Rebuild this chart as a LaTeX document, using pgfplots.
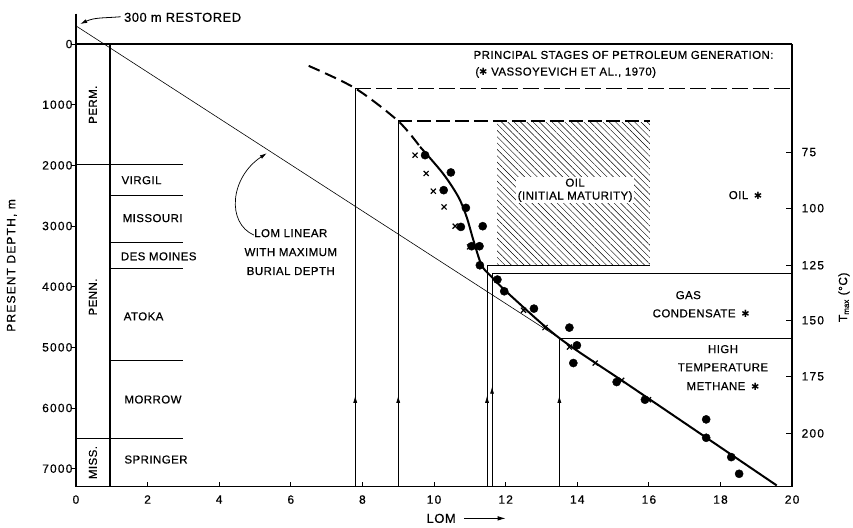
\documentclass[border=0pt]{standalone}
\usepackage{fontspec}
\setmainfont{Liberation Sans}[LetterSpace=4, FakeBold=0.6]
\newfontfamily\tickfont{Liberation Sans}[LetterSpace=10, FakeBold=0.6]
\newfontfamily\symfont{DejaVu Sans}
\usepackage{pgfplots}
\pgfplotsset{compat=1.18}
\usetikzlibrary{patterns.meta,arrows.meta}

\newcommand{\vs}{{\symfont\fontsize{10}{10}\selectfont ✱}}

\begin{document}
\begin{tikzpicture}[lbl/.style={font=\fontsize{11.5}{13}\selectfont, inner sep=0pt}]
\begin{axis}[
  scale only axis, width=716bp, height=473bp,
  xmin=0, xmax=20, ymin=-500, ymax=7300, y dir=reverse,
  axis x line*=bottom, axis y line*=left,
  axis line style={-, line width=1.3pt},
  xtick={0,2,...,20}, ytick={0,1000,...,7000},
  tick align=inside, major tick length=5pt,
  xtick style={line width=0.9pt, black},
  ytick style={xshift=-5pt, line width=0.9pt, black},
  tick label style={font=\tickfont\fontsize{12}{13}\selectfont},
  xticklabel style={yshift=-5pt},
  /pgf/number format/assume math mode=true,
  /pgf/number format/1000 sep={},
  clip=false,
]
% page frame (matches the reference margins)
\path (axis cs:-2.12,-726) rectangle (axis cs:21.7,7970);
% frame lines
\addplot[line width=1.2pt] coordinates {(0,0) (20,0)};
\addplot[line width=1.3pt] coordinates {(20,0) (20,7300)};
% stratigraphic column
\addplot[line width=1.2pt] coordinates {(0.95,0) (0.95,7300)};
\addplot[line width=1.1pt] coordinates {(0,1980) (3,1980)};
\addplot[line width=1.1pt] coordinates {(0.95,2490) (3,2490)};
\addplot[line width=1.1pt] coordinates {(0.95,3270) (3,3270)};
\addplot[line width=1.1pt] coordinates {(0.95,3700) (3,3700)};
\addplot[line width=1.1pt] coordinates {(0.95,5215) (3,5215)};
\addplot[line width=1.1pt] coordinates {(0,6500) (3,6500)};

% LOM linear with maximum burial depth
\addplot[line width=0.6pt] coordinates {(0,-300) (13.5,4850)};

% hatched oil (initial maturity) zone
\addplot[draw=none, pattern={Lines[angle=-45,distance=4.5pt,line width=0.45pt]}]
  coordinates {(11.76,1300) (16.03,1300) (16.03,3650) (11.76,3650)} -- cycle;

% stage boundaries
\addplot[line width=0.9pt, dash pattern=on 16pt off 5pt] coordinates {(7.8,730) (20,730)};
\addplot[line width=1.3pt, dash pattern=on 14pt off 5pt] coordinates {(9.0,1270) (16.03,1270)};
\addplot[line width=1.2pt] coordinates {(11.48,3650) (16.03,3650)};
\addplot[line width=1.2pt] coordinates {(11.62,3780) (20,3780)};
\addplot[line width=1.0pt] coordinates {(13.5,4850) (20,4850)};

% vertical lines with arrows
\addplot[line width=0.6pt] coordinates {(7.8,7300) (7.8,730)};
\addplot[line width=0.6pt] coordinates {(9.0,7300) (9.0,1270)};
\addplot[line width=0.6pt] coordinates {(11.48,7300) (11.48,3650)};
\addplot[line width=0.6pt] coordinates {(11.62,7300) (11.62,3780)};
\addplot[line width=0.6pt] coordinates {(13.5,7300) (13.5,4850)};
\addplot[line width=0.6pt, -{Latex[length=7pt,width=4pt]}] coordinates {(7.8,6400) (7.8,5800)};
\addplot[line width=0.6pt, -{Latex[length=7pt,width=4pt]}] coordinates {(9.0,6400) (9.0,5800)};
\addplot[line width=0.6pt, -{Latex[length=7pt,width=4pt]}] coordinates {(11.48,6400) (11.48,5800)};
\addplot[line width=0.6pt, -{Latex[length=7pt,width=4pt]}] coordinates {(11.62,6300) (11.62,5650)};
\addplot[line width=0.6pt, -{Latex[length=7pt,width=4pt]}] coordinates {(13.5,6400) (13.5,5800)};

% LOM profile
\addplot[line width=2pt, dash pattern=on 12pt off 6pt, smooth] coordinates {
  (6.5,360) (7.8,730) (9.0,1270) (9.61,1694)};
\addplot[line width=2pt, smooth, tension=0.5] coordinates {
  (9.61,1694) (10.25,2134) (10.68,2520) (10.91,2850) (11.1,3234)
  (11.33,3647) (11.61,3840) (12.2,4180) (13.52,4856) (15.57,5676) (19.57,7277)};

% measured data
\addplot[only marks, mark=*, mark size=4.1pt, black] coordinates {
  (9.75,1832) (10.47,2117) (10.27,2409) (10.89,2701) (10.75,3015)
  (11.36,3003) (11.05,3333) (11.27,3333) (11.28,3647) (11.77,3883)
  (11.96,4076) (12.79,4362) (13.78,4675) (13.99,4967) (13.89,5259)
  (15.10,5572) (15.89,5864) (17.6,6188) (17.6,6491) (18.3,6810)
  (18.52,7085)};
\addplot[only marks, mark=x, mark size=3.6pt, line width=1.2pt, black] coordinates {
  (9.47,1832) (9.78,2134) (9.98,2426) (10.28,2685) (10.59,3003)
  (10.99,3344) (12.5,4389) (13.1,4675) (13.78,4995) (14.5,5259)
  (15.24,5545) (15.99,5864)};

% column labels
\node[lbl, rotate=90] at (axis cs:0.475,1000) {PERM.};
\node[lbl, rotate=90] at (axis cs:0.475,4170) {PENN.};
\node[lbl, rotate=90] at (axis cs:0.475,6900) {MISS.};
\node[lbl, anchor=west] at (axis cs:1.27,2245) {VIRGIL};
\node[lbl, anchor=west] at (axis cs:1.3,2870) {MISSOURI};
\node[lbl, anchor=west] at (axis cs:1.25,3500) {DES MOINES};
\node[lbl, anchor=west] at (axis cs:1.33,4490) {ATOKA};
\node[lbl, anchor=west] at (axis cs:1.35,5860) {MORROW};
\node[lbl, anchor=west] at (axis cs:1.35,6850) {SPRINGER};

% annotations
\node[lbl, anchor=west, font=\fontsize{13}{14}\selectfont] at (axis cs:1.34,-440) {300 m RESTORED};
\draw[line width=0.8pt, -{Latex[length=7pt,width=4pt]}] (axis cs:1.25,-450) to[out=185,in=25] (axis cs:0.12,-330);
\node[lbl, align=center, font=\fontsize{11.5}{19}\selectfont] at (axis cs:6.0,3430) {LOM LINEAR\\WITH MAXIMUM\\BURIAL DEPTH};
\draw[line width=0.7pt, -{Latex[length=7pt,width=4pt]}] (axis cs:4.97,3150) .. controls (axis cs:4.2,2950) and (axis cs:4.3,2200) .. (axis cs:5.33,1800);

\node[lbl, anchor=west] at (axis cs:11.1,180) {PRINCIPAL STAGES OF PETROLEUM GENERATION:};
\node[lbl, anchor=west] at (axis cs:11.15,470) {(\vs{} VASSOYEVICH ET AL., 1970)};
\node[lbl, fill=white, inner sep=1.5pt, align=center] at (axis cs:13.94,2410) {OIL\\(INITIAL MATURITY)};
\node[lbl] at (axis cs:18.7,2490) {OIL\enspace\vs};
\node[lbl] at (axis cs:17.1,4140) {GAS};
\node[lbl] at (axis cs:17.46,4440) {CONDENSATE\enspace\vs};
\node[lbl] at (axis cs:18.07,5030) {HIGH};
\node[lbl] at (axis cs:18.07,5330) {TEMPERATURE};
\node[lbl] at (axis cs:18.07,5640) {METHANE\enspace\vs};

% axis titles
\node[rotate=90, inner sep=0pt, font=\fontsize{12}{13}\selectfont\addfontfeatures{LetterSpace=10}] at (axis cs:-1.79,3650) {PRESENT DEPTH, m};
\node[font=\fontsize{13}{14}\selectfont, inner sep=0pt] at (axis cs:10.2,7820) {LOM};
\draw[line width=0.7pt, -{Latex[length=8pt,width=4.5pt]}] (axis cs:10.85,7820) -- (axis cs:12.0,7820);
\node[lbl, rotate=90, font=\fontsize{12}{13}\selectfont] at (axis cs:21.45,4175) {T$_{\mathrm{max}}$ (°C)};
\end{axis}

\begin{axis}[
  scale only axis, width=716bp, height=473bp,
  xmin=0, xmax=20, ymin=-500, ymax=7300, y dir=reverse,
  axis x line=none, axis y line*=right,
  axis line style={draw=none},
  ytick={1782,2706,3647,4554,5479,6419},
  yticklabels={75,100,125,150,175,200},
  tick align=inside, major tick length=6pt,
  ytick style={line width=0.9pt, black},
  tick label style={font=\tickfont\fontsize{12}{13}\selectfont},
  yticklabel style={xshift=6pt},
]
\end{axis}
\end{tikzpicture}
\end{document}
